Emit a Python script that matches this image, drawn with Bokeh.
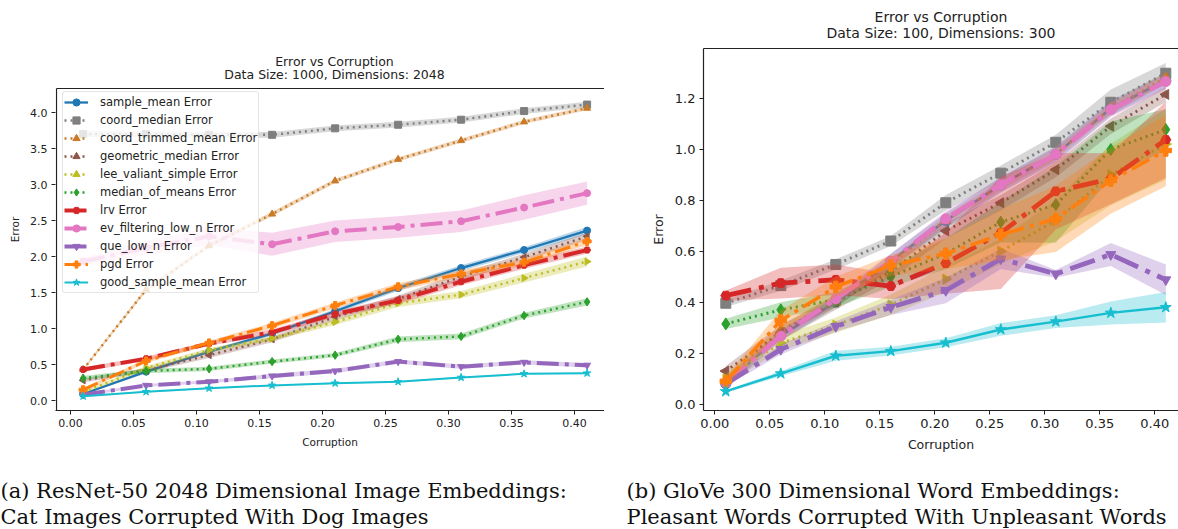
import math
from bokeh.plotting import figure
from bokeh.models import Range1d, LinearAxis, FixedTicker, PrintfTickFormatter, Label, Title
from bokeh.layouts import row, column
from bokeh.embed import file_html
from bokeh.resources import INLINE

# ---------------- data ----------------
CORRUPTION = [0.01, 0.06, 0.11, 0.16, 0.21, 0.26, 0.31, 0.36, 0.41]
X_TICKS = [0.0, 0.05, 0.10, 0.15, 0.20, 0.25, 0.30, 0.35, 0.40]
A_Y_TICKS = [0.0, 0.5, 1.0, 1.5, 2.0, 2.5, 3.0, 3.5, 4.0]
B_Y_TICKS = [0.0, 0.2, 0.4, 0.6, 0.8, 1.0, 1.2]

SERIES = ["sample_mean", "coord_median", "coord_trimmed_mean", "geometric_median",
          "lee_valiant_simple", "median_of_means", "lrv", "ev_filtering_low_n",
          "que_low_n", "pgd", "good_sample_mean"]

# (a) ResNet-50 image embeddings: mean error and half-width of the shaded band
A_SAMPLE_MEAN = [0.09, 0.40, 0.68, 0.93, 1.24, 1.56, 1.84, 2.09, 2.36]
A_SAMPLE_MEAN_ERR = [0.01, 0.02, 0.02, 0.03, 0.03, 0.04, 0.04, 0.04, 0.05]
A_COORD_MEDIAN = [3.70, 3.70, 3.69, 3.69, 3.78, 3.83, 3.90, 4.02, 4.11]
A_COORD_MEDIAN_ERR = [0.04, 0.04, 0.04, 0.04, 0.04, 0.04, 0.04, 0.04, 0.04]
A_COORD_TRIMMED = [0.43, 1.54, 2.15, 2.59, 3.05, 3.35, 3.61, 3.87, 4.06]
A_COORD_TRIMMED_ERR = [0.02, 0.03, 0.03, 0.03, 0.03, 0.03, 0.03, 0.03, 0.03]
A_GEOMETRIC_MEDIAN = [0.28, 0.42, 0.63, 0.85, 1.16, 1.41, 1.72, 1.99, 2.28]
A_GEOMETRIC_MEDIAN_ERR = [0.03, 0.03, 0.04, 0.04, 0.05, 0.05, 0.05, 0.05, 0.05]
A_LEE_VALIANT = [0.12, 0.45, 0.70, 0.86, 1.09, 1.35, 1.47, 1.70, 1.93]
A_LEE_VALIANT_ERR = [0.02, 0.03, 0.03, 0.03, 0.04, 0.05, 0.05, 0.06, 0.07]
A_MEDIAN_OF_MEANS = [0.31, 0.41, 0.44, 0.54, 0.63, 0.85, 0.89, 1.18, 1.37]
A_MEDIAN_OF_MEANS_ERR = [0.03, 0.03, 0.03, 0.03, 0.03, 0.04, 0.04, 0.04, 0.05]
A_LRV = [0.43, 0.58, 0.79, 0.95, 1.20, 1.39, 1.65, 1.88, 2.09]
A_LRV_ERR = [0.03, 0.03, 0.03, 0.04, 0.04, 0.05, 0.05, 0.05, 0.05]
A_EV_FILTERING = [1.93, 2.12, 2.28, 2.17, 2.35, 2.41, 2.49, 2.68, 2.88]
A_EV_FILTERING_ERR = [0.05, 0.10, 0.12, 0.16, 0.15, 0.15, 0.15, 0.17, 0.16]
A_QUE_LOW_N = [0.08, 0.21, 0.26, 0.34, 0.41, 0.54, 0.47, 0.53, 0.49]
A_QUE_LOW_N_ERR = [0.02, 0.02, 0.02, 0.03, 0.03, 0.03, 0.03, 0.03, 0.03]
A_PGD = [0.15, 0.55, 0.80, 1.04, 1.32, 1.58, 1.76, 1.92, 2.21]
A_PGD_ERR = [0.02, 0.03, 0.03, 0.04, 0.04, 0.05, 0.05, 0.05, 0.05]
A_GOOD_SAMPLE_MEAN = [0.06, 0.12, 0.17, 0.21, 0.24, 0.26, 0.32, 0.37, 0.38]
A_GOOD_SAMPLE_MEAN_ERR = [0.01, 0.01, 0.01, 0.01, 0.01, 0.01, 0.01, 0.01, 0.01]

# (b) GloVe word embeddings
B_SAMPLE_MEAN = [0.08, 0.27, 0.40, 0.56, 0.72, 0.86, 0.98, 1.16, 1.27]
B_SAMPLE_MEAN_ERR = [0.02, 0.02, 0.02, 0.03, 0.03, 0.03, 0.03, 0.03, 0.03]
B_COORD_MEDIAN = [0.396, 0.465, 0.548, 0.64, 0.79, 0.906, 1.027, 1.184, 1.298]
B_COORD_MEDIAN_ERR = [0.015, 0.02, 0.02, 0.02, 0.03, 0.03, 0.03, 0.05, 0.04]
B_COORD_TRIMMED = [0.09, 0.29, 0.40, 0.55, 0.72, 0.86, 0.98, 1.16, 1.28]
B_COORD_TRIMMED_ERR = [0.02, 0.02, 0.02, 0.02, 0.02, 0.02, 0.02, 0.02, 0.02]
B_GEOMETRIC_MEDIAN = [0.13, 0.28, 0.40, 0.52, 0.68, 0.79, 0.92, 1.09, 1.215]
B_GEOMETRIC_MEDIAN_ERR = [0.02, 0.03, 0.03, 0.03, 0.03, 0.03, 0.03, 0.03, 0.03]
B_LEE_VALIANT = [0.10, 0.24, 0.31, 0.39, 0.49, 0.60, 0.72, 0.90, 1.02]
B_LEE_VALIANT_ERR = [0.02, 0.03, 0.03, 0.04, 0.05, 0.05, 0.08, 0.12, 0.14]
B_MEDIAN_OF_MEANS = [0.315, 0.37, 0.41, 0.50, 0.59, 0.714, 0.783, 0.999, 1.077]
B_MEDIAN_OF_MEANS_ERR = [0.02, 0.03, 0.03, 0.04, 0.06, 0.08, 0.15, 0.11, 0.08]
B_LRV = [0.426, 0.475, 0.488, 0.463, 0.553, 0.672, 0.835, 0.884, 1.037]
B_LRV_ERR = [0.02, 0.06, 0.06, 0.05, 0.12, 0.22, 0.15, 0.10, 0.15]
B_EV_FILTERING = [0.084, 0.267, 0.413, 0.56, 0.727, 0.86, 0.98, 1.155, 1.265]
B_EV_FILTERING_ERR = [0.02, 0.02, 0.02, 0.03, 0.03, 0.03, 0.03, 0.03, 0.03]
B_QUE_LOW_N = [0.08, 0.215, 0.305, 0.38, 0.446, 0.57, 0.511, 0.587, 0.488]
B_QUE_LOW_N_ERR = [0.01, 0.02, 0.02, 0.03, 0.05, 0.04, 0.015, 0.045, 0.06]
B_PGD = [0.09, 0.328, 0.46, 0.544, 0.59, 0.665, 0.727, 0.877, 0.995]
B_PGD_ERR = [0.02, 0.04, 0.04, 0.04, 0.06, 0.10, 0.13, 0.13, 0.14]
B_GOOD_SAMPLE_MEAN = [0.05, 0.12, 0.19, 0.208, 0.241, 0.293, 0.324, 0.358, 0.38]
B_GOOD_SAMPLE_MEAN_ERR = [0.005, 0.01, 0.02, 0.017, 0.018, 0.025, 0.025, 0.045, 0.06]

A_MEANS = [A_SAMPLE_MEAN, A_COORD_MEDIAN, A_COORD_TRIMMED, A_GEOMETRIC_MEDIAN, A_LEE_VALIANT,
           A_MEDIAN_OF_MEANS, A_LRV, A_EV_FILTERING, A_QUE_LOW_N, A_PGD, A_GOOD_SAMPLE_MEAN]
A_ERRS = [A_SAMPLE_MEAN_ERR, A_COORD_MEDIAN_ERR, A_COORD_TRIMMED_ERR, A_GEOMETRIC_MEDIAN_ERR,
          A_LEE_VALIANT_ERR, A_MEDIAN_OF_MEANS_ERR, A_LRV_ERR, A_EV_FILTERING_ERR,
          A_QUE_LOW_N_ERR, A_PGD_ERR, A_GOOD_SAMPLE_MEAN_ERR]
B_MEANS = [B_SAMPLE_MEAN, B_COORD_MEDIAN, B_COORD_TRIMMED, B_GEOMETRIC_MEDIAN, B_LEE_VALIANT,
           B_MEDIAN_OF_MEANS, B_LRV, B_EV_FILTERING, B_QUE_LOW_N, B_PGD, B_GOOD_SAMPLE_MEAN]
B_ERRS = [B_SAMPLE_MEAN_ERR, B_COORD_MEDIAN_ERR, B_COORD_TRIMMED_ERR, B_GEOMETRIC_MEDIAN_ERR,
          B_LEE_VALIANT_ERR, B_MEDIAN_OF_MEANS_ERR, B_LRV_ERR, B_EV_FILTERING_ERR,
          B_QUE_LOW_N_ERR, B_PGD_ERR, B_GOOD_SAMPLE_MEAN_ERR]

A_TITLE = ["Error vs Corruption", "Data Size: 1000, Dimensions: 2048"]
B_TITLE = ["Error vs Corruption", "Data Size: 100, Dimensions: 300"]
A_CAPTION = ["(a) ResNet-50 2048 Dimensional Image Embeddings:",
             "Cat Images Corrupted With Dog Images"]
B_CAPTION = ["(b) GloVe 300 Dimensional Word Embeddings:",
             "Pleasant Words Corrupted With Unpleasant Words"]

# ---------------- styles ----------------
STYLES = {
    "sample_mean": ("#1f77b4", "solid", "circle", 0.0, 2.3),
    "coord_median": ("#7f7f7f", "dot", "square", 0.0, 2.4),
    "coord_trimmed_mean": ("#c97a26", "dot", "triangle", 0.0, 2.4),
    "geometric_median": ("#8c564b", "dot", "triangle", math.pi / 2, 2.4),
    "lee_valiant_simple": ("#bcbd22", "dot", "triangle", -math.pi / 2, 2.4),
    "median_of_means": ("#2ca02c", "dot", "diamond", 0.0, 2.4),
    "lrv": ("#d62728", "dashdot", "hex", 0.0, 4.0),
    "ev_filtering_low_n": ("#e377c2", "dashdot", "circle", 0.0, 4.0),
    "que_low_n": ("#9467bd", "dashdot", "inverted_triangle", 0.0, 4.0),
    "pgd": ("#ff7f0e", "dashdot", "plus", 0.0, 3.0),
    "good_sample_mean": ("#17becf", "solid", "star", 0.0, 2.0),
}

FONT = "DejaVu Sans"
SERIF = "DejaVu Serif"
INK = "#222222"
PLOT_H = 460        # height of the chart row; captions fill the rest of 529
CAP_H = 529 - PLOT_H
FRAME_TOP = 48      # common frame top of both figures (row aligns frames)
FRAME_BOTTOM = 410  # common frame bottom


def dash_for(kind, lw):
    if kind == "dot":
        return "2 4"
    if kind == "dashdot":
        a = int(round(lw * 5.5))
        g = int(round(lw * 1.6))
        d = int(round(lw * 1.0))
        return f"{a} {g} {d} {g}"
    return "solid"


def style_axis(ax, tick_size, label_size):
    ax.axis_line_color = INK
    ax.axis_line_width = 1.2
    ax.major_tick_line_color = INK
    ax.major_tick_out = 4
    ax.major_tick_in = 0
    ax.minor_tick_line_color = None
    ax.major_label_text_font = FONT
    ax.major_label_text_font_size = tick_size
    ax.major_label_text_color = INK
    ax.major_label_standoff = 4
    ax.axis_label_text_font = FONT
    ax.axis_label_text_font_size = label_size
    ax.axis_label_text_font_style = "normal"
    ax.axis_label_text_color = INK
    ax.axis_label_standoff = 6


def base_figure(width, frame_left, xr, yr, yticks, tick_size, label_size):
    p = figure(width=width, height=PLOT_H, output_backend="svg", toolbar_location=None,
               x_range=Range1d(*xr), y_range=Range1d(*yr),
               min_border_left=frame_left, min_border_right=0,
               min_border_top=FRAME_TOP, min_border_bottom=PLOT_H - FRAME_BOTTOM,
               outline_line_color=None, background_fill_color="white",
               border_fill_color="white")
    p.title_location = None
    p.xgrid.visible = False
    p.ygrid.visible = False
    style_axis(p.xaxis[0], tick_size, label_size)
    style_axis(p.yaxis[0], tick_size, label_size)
    p.xaxis[0].ticker = FixedTicker(ticks=X_TICKS)
    p.xaxis[0].formatter = PrintfTickFormatter(format="%.2f")
    p.yaxis[0].ticker = FixedTicker(ticks=yticks)
    p.yaxis[0].formatter = PrintfTickFormatter(format="%.1f")
    p.xaxis[0].axis_label = "Corruption"
    p.yaxis[0].axis_label = "Error"
    return p


def draw_series(p, means, errs, scale, marker_size, legend):
    for name, m, e in zip(SERIES, means, errs):
        color, kind, marker, angle, lw = STYLES[name]
        lw = lw * scale
        lower = [a - b for a, b in zip(m, e)]
        upper = [a + b for a, b in zip(m, e)]
        p.varea(x=CORRUPTION, y1=lower, y2=upper, fill_color=color, fill_alpha=0.3)
        kw = dict(legend_label=f"{name} Error") if legend else {}
        p.line(CORRUPTION, m, line_color=color, line_width=lw,
               line_dash=dash_for(kind, lw), **kw)
        msize = marker_size
        if marker in ("star", "plus"):
            msize = marker_size * 1.15
        if marker == "diamond":
            msize = marker_size * 1.2
        p.scatter(CORRUPTION, m, marker=marker, size=msize, angle=angle,
                  fill_color=color, line_color=color, **kw)


def caption_figure(width, lines, x0):
    c = figure(width=width, height=CAP_H, output_backend="svg", toolbar_location=None,
               x_range=Range1d(0, width), y_range=Range1d(CAP_H, 0),
               x_axis_type=None, y_axis_type=None, min_border=0,
               outline_line_color=None, background_fill_color="white",
               border_fill_color="white")
    c.title_location = None
    c.xgrid.visible = False
    c.ygrid.visible = False
    for line, base in zip(lines, (30, 56)):
        c.add_layout(Label(x=x0, y=base, text=line, text_align="left",
                           text_baseline="alphabetic", text_font=SERIF,
                           text_font_size="21px", text_color="#111111"))
    return c


# ---------------- (a) left figure ----------------
A_LEFT = 55
A_PX0, A_PXU = 70.0, 1260.0     # pixel of x=0, pixels per unit
A_PY0, A_PYU = 400.0, 72.0      # pixel of y=0, pixels per unit
A_W = 604
p1 = base_figure(A_W, A_LEFT,
                 ((A_LEFT - A_PX0) / A_PXU, (A_W - A_PX0) / A_PXU),
                 ((A_PY0 - FRAME_BOTTOM) / A_PYU, (A_PY0 - FRAME_TOP) / A_PYU),
                 A_Y_TICKS, "11px", "10.5px")
p1.yaxis[0].axis_line_color = None
spine_x = (56 - A_PX0) / A_PXU
spine_top = (A_PY0 - 88) / A_PYU
spine_bot = (A_PY0 - FRAME_BOTTOM) / A_PYU
p1.segment(x0=[spine_x, spine_x], y0=[spine_bot, spine_top],
           x1=[spine_x, (A_W - A_PX0) / A_PXU], y1=[spine_top, spine_top],
           line_color=INK, line_width=1.2)
draw_series(p1, A_MEANS, A_ERRS, 1.0, 7, True)
title_x = (334 - A_PX0) / A_PXU
for line, py in zip(A_TITLE, (61, 74)):
    p1.add_layout(Label(x=title_x, y=(A_PY0 - py) / A_PYU, text=line, text_align="center",
                        text_baseline="middle", text_font=FONT, text_font_size="12.5px",
                        text_color=INK))
lg = p1.legend[0]
lg.location = (7, FRAME_BOTTOM - 293)
lg.margin = 0
lg.padding = 1
lg.spacing = 0
lg.label_height = 18
lg.glyph_height = 18
lg.glyph_width = 24
lg.label_standoff = 12
lg.label_text_font = FONT
lg.label_text_font_size = "11.5px"
lg.label_text_color = INK
lg.border_line_color = "#cccccc"
lg.border_line_width = 1
lg.border_radius = 3
lg.background_fill_alpha = 0.8

# ---------------- (b) right figure ----------------
B_LEFT = 99
B_PX0, B_PXU = 714.3 - A_W, 1100.0
B_PY0, B_PYU = 403.7, 255.0
B_W = 1178 - A_W
p2 = base_figure(B_W, B_LEFT,
                 ((B_LEFT - B_PX0) / B_PXU, (B_W - B_PX0) / B_PXU),
                 ((B_PY0 - FRAME_BOTTOM) / B_PYU, (B_PY0 - FRAME_TOP) / B_PYU),
                 B_Y_TICKS, "13px", "12.5px")
top = LinearAxis(axis_line_color=INK, axis_line_width=1.2,
                 major_tick_line_color=None, minor_tick_line_color=None,
                 major_label_text_font_size="0px", major_tick_out=0, major_tick_in=0,
                 major_label_standoff=0, ticker=FixedTicker(ticks=[]))
p2.add_layout(top, "above")
draw_series(p2, B_MEANS, B_ERRS, 1.2, 10, False)
p2.add_layout(Title(text=B_TITLE[1], align="center", text_font=FONT, text_font_size="14px",
                    text_font_style="normal", text_color=INK, standoff=16), "above")
p2.add_layout(Title(text=B_TITLE[0], align="center", text_font=FONT, text_font_size="14px",
                    text_font_style="normal", text_color=INK, standoff=-20), "above")

c1 = caption_figure(A_W, A_CAPTION, 0)
c2 = caption_figure(B_W, B_CAPTION, 626 - A_W)

layout = column(row(p1, p2), row(c1, c2))
open("out.html", "w").write(file_html(layout, INLINE))
